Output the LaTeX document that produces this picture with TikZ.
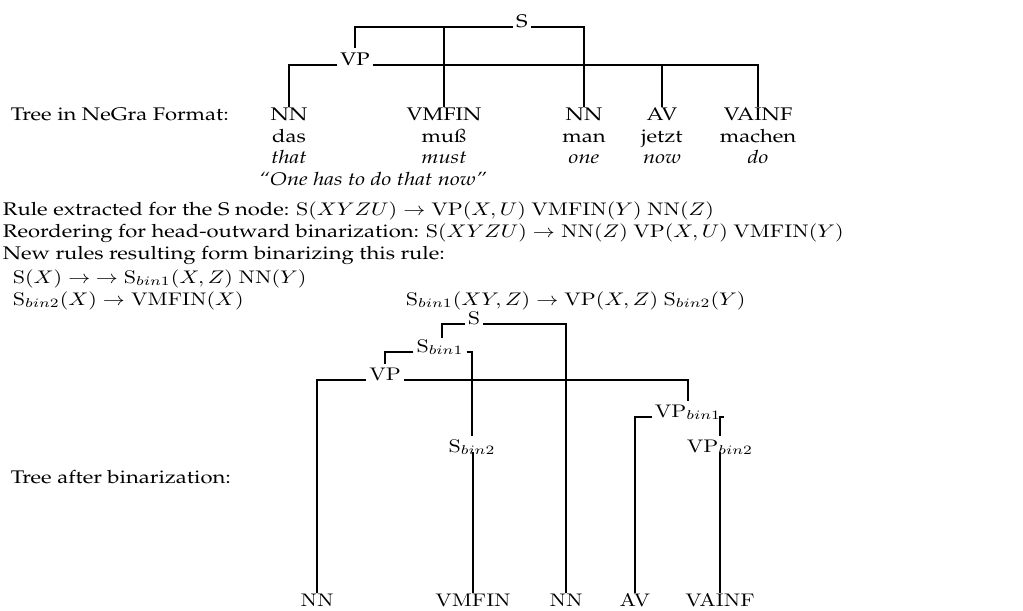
\documentclass[tikz,border=0pt]{standalone}
\usepackage[T1]{fontenc}
\usepackage{palatino}
\begin{document}
\begin{tikzpicture}[x=0.4545pt,y=-0.4545pt,line width=0.8pt,
  lab/.style={inner sep=0pt,anchor=base,yscale=0.83},
  txt/.style={inner sep=0pt,anchor=base west,yscale=0.83},
  gl/.style={lab,font=\itshape}]
\useasboundingbox (0,0) rectangle (1023,610);
% ---------- top tree ----------
\node[txt] (lbla) at (10,120) {Tree in NeGra Format:};
\node[lab] (tS) at (522,27) {S};
\node[lab] (tVP) at (355,65) {VP};
\node[lab] (tNNa) at (289,120) {NN};
\node[lab] (tVMFIN) at (444,120) {VMFIN};
\node[lab] (tNNb) at (584,120) {NN};
\node[lab] (tAV) at (662,120) {AV};
\node[lab] (tVAINF) at (758,120) {VAINF};
\node[lab] (wa) at (289,142) {das};
\node[lab] (wb) at (444,142) {mu\ss};
\node[lab] (wc) at (584,142) {man};
\node[lab] (wd) at (662,142) {jetzt};
\node[lab] (we) at (758,142) {machen};
\node[gl] (ga) at (289,163) {that};
\node[gl] (gb) at (444,163) {must};
\node[gl] (gc) at (584,163) {one};
\node[gl] (gd) at (662,163) {now};
\node[gl] (ge) at (758,163) {do};
\node[txt,font=\itshape] (quote) at (258,185) {``One has to do that now''};
\draw ([xshift=-1pt]tS.base west) -| ([yshift=1.5pt]tVP.north);
\draw ([xshift=1pt]tS.base east) -| (tNNb.north);
\draw (tVMFIN.north |- tS.base) -- (tVMFIN.north);
\draw ([xshift=-1pt]tVP.base west) -| (tNNa.north);
\draw ([xshift=1pt]tVP.base east) -| (tVAINF.north);
\draw (tAV.north |- tVP.base) -- (tAV.north);
% ---------- rules ----------
\node[txt] (ra) at (2,215) {Rule extracted for the S node: $\mathrm{S}(XYZU)\rightarrow\mathrm{VP}(X,U)\ \mathrm{VMFIN}(Y)\ \mathrm{NN}(Z)$};
\node[txt] (rb) at (2,237) {Reordering for head-outward binarization: $\mathrm{S}(XYZU)\rightarrow\mathrm{NN}(Z)\ \mathrm{VP}(X,U)\ \mathrm{VMFIN}(Y)$};
\node[txt] (rc) at (2,259) {New rules resulting form binarizing this rule:};
\node[txt] (rd) at (12,283) {$\mathrm{S}(X)\rightarrow\ \rightarrow\mathrm{S}_{bin1}(X,Z)\ \mathrm{NN}(Y)$};
\node[txt] (re) at (12,305) {$\mathrm{S}_{bin2}(X)\rightarrow\mathrm{VMFIN}(X)$};
\node[txt] (rf) at (405,305) {$\mathrm{S}_{bin1}(XY,Z)\rightarrow\mathrm{VP}(X,Z)\ \mathrm{S}_{bin2}(Y)$};
% ---------- lower tree ----------
\node[txt] (lblb) at (10,483) {Tree after binarization:};
\node[lab] (bS) at (474,324) {$\mathrm{S}$};
\node[lab] (bSa) at (440,352) {$\mathrm{S}_{bin1}$};
\node[lab] (bVP) at (385,380) {$\mathrm{VP}$};
\node[lab] (bVPa) at (688,417) {$\mathrm{VP}_{bin1}$};
\node[lab] (bSb) at (472,452) {$\mathrm{S}_{bin2}$};
\node[lab] (bVPb) at (720,452) {$\mathrm{VP}_{bin2}$};
\node[lab] (bNNa) at (317,606) {$\mathrm{NN}$};
\node[lab] (bVMFIN) at (473,606) {$\mathrm{VMFIN}$};
\node[lab] (bNNb) at (566,606) {$\mathrm{NN}$};
\node[lab] (bAV) at (635,606) {$\mathrm{AV}$};
\node[lab] (bVAINF) at (720,606) {$\mathrm{VAINF}$};
\coordinate (bSstub) at (442,338);
\draw ([xshift=-1pt]bS.base west) -| (bSstub);
\draw ([xshift=1pt]bS.base east) -| (bNNb.north);
\draw ([xshift=-1pt]bSa.base west) -| ([yshift=1.5pt]bVP.north);
\draw ([xshift=1pt]bSa.base east) -| ([yshift=1.5pt]bSb.north);
\draw ([xshift=-1pt]bVP.base west) -| (bNNa.north);
\draw ([xshift=1pt]bVP.base east) -| ([yshift=1.5pt]bVPa.north);
\draw (bVMFIN.north |- bSb.base) -- (bVMFIN.north);
\draw ([xshift=-1pt]bVPa.base west) -| (bAV.north);
\draw ([xshift=1pt]bVPa.base east) -| ([yshift=1.5pt]bVPb.north);
\draw (bVAINF.north |- bVPb.base) -- (bVAINF.north);
\end{tikzpicture}
\end{document}
